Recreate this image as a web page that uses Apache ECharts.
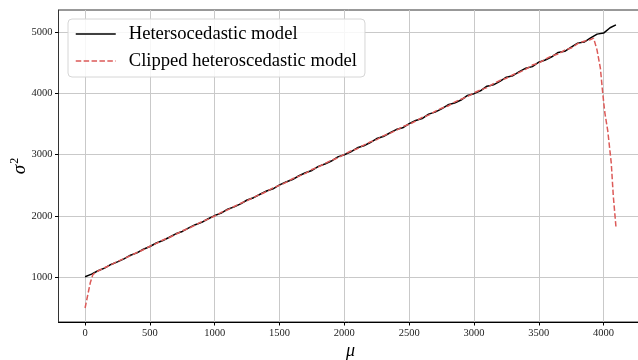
<!DOCTYPE html>
<html>
<head>
<meta charset="utf-8">
<script src="https://cdn.jsdelivr.net/npm/echarts@6/dist/echarts.min.js"></script>
<style>html,body{margin:0;padding:0;background:#fff}#c{width:638px;height:360px}</style>
</head>
<body>
<div id="c"></div>
<script>
// Heteroscedastic model (black) sampled points
const hetX = [0,50,100,150,200,250,300,350,400,450,500,550,600,650,700,750,800,850,900,950,
  1000,1050,1100,1150,1200,1250,1300,1350,1400,1450,1500,1550,1600,1650,1700,1750,1800,1850,1900,1950,
  2000,2050,2100,2150,2200,2250,2300,2350,2400,2450,2500,2550,2600,2650,2700,2750,2800,2850,2900,2950,
  3000,3050,3100,3150,3200,3250,3300,3350,3400,3450,3500,3550,3600,3650,3700,3750,3800,3850,3900,3950,
  4000,4050,4095];
const hetY = [1005,1048,1102,1146,1205,1248,1297,1356,1394,1453,1498,1556,1597,1649,1706,1744,1802,1855,1893,1952,
  2004,2043,2108,2146,2195,2258,2296,2352,2405,2441,2506,2553,2592,2654,2703,2741,2808,2846,2895,2962,
  2998,3046,3111,3143,3197,3262,3294,3353,3409,3438,3506,3556,3588,3661,3694,3747,3813,3842,3891,3966,
  3995,4042,4118,4139,4197,4264,4288,4356,4412,4437,4509,4545,4598,4669,4688,4757,4821,4838,4905,4968,
  4985,5072,5118];

// Clipped heteroscedastic model (red dashed)
const clipX = [0,20,40,60,80,100,150,200,250,300,350,400,450,500,550,600,650,700,750,800,850,900,950,
  1000,1050,1100,1150,1200,1250,1300,1350,1400,1450,1500,1550,1600,1650,1700,1750,1800,1850,1900,1950,
  2000,2050,2100,2150,2200,2250,2300,2350,2400,2450,2500,2550,2600,2650,2700,2750,2800,2850,2900,2950,
  3000,3050,3100,3150,3200,3250,3300,3350,3400,3450,3500,3550,3600,3650,3700,3750,3800,3850,3900,
  3923,3949,3975,3992,4008,4032,4059,4075,4095];
const clipY = [494,700,905,1040,1075,1098,1152,1199,1253,1302,1347,1401,1446,1503,1549,1604,1646,1698,1753,1796,1849,1904,1946,
  1997,2055,2098,2152,2204,2247,2303,2349,2396,2455,2497,2546,2605,2648,2694,2756,2798,2853,2906,2946,
  3004,3058,3096,3155,3207,3244,3306,3346,3396,3458,3493,3547,3607,3644,3706,3758,3794,3857,3904,3948,
  4009,4056,4094,4158,4211,4247,4304,4343,4396,4462,4494,4558,4613,4642,4706,4741,4812,4851,4880,
  4902,4711,4412,4030,3704,3389,2861,2316,1826];

const xTicks = [0,500,1000,1500,2000,2500,3000,3500,4000];
const yTicks = [1000,2000,3000,4000,5000];
const seriesNames = ['Hetersocedastic model','Clipped heteroscedastic model'];

const FONT = 'Liberation Serif';
const chart = echarts.init(document.getElementById('c'), null, {renderer:'canvas'});
const zip = (xs, ys) => xs.map((x, i) => [x, ys[i]]);

chart.setOption({
  animation: false,
  backgroundColor: '#fff',
  grid: {left: 58.5, top: 10, width: 584, height: 312, containLabel: false, outerBoundsMode: 'none',
         show: true, borderColor: '#333', borderWidth: 1, backgroundColor: 'transparent'},
  legend: {
    left: 68, top: 19, orient: 'vertical',
    itemWidth: 40, itemHeight: 14, itemGap: 7,
    padding: [5, 8, 6, 7],
    backgroundColor: 'rgba(255,255,255,0.85)', borderColor: '#d6d6d6', borderWidth: 1, borderRadius: 4,
    lineStyle: {width: 1.5},
    itemStyle: {opacity: 0},
    textStyle: {fontFamily: FONT, fontSize: 18.6, color: '#000', lineHeight: 20, padding: [0,0,0,8]},
    data: seriesNames
  },
  xAxis: {
    type: 'value', min: -205, max: 4300,
    name: 'μ', nameLocation: 'middle', nameGap: 20, nameMoveOverlap: false,
    nameTextStyle: {fontFamily: FONT, fontSize: 18, fontStyle: 'italic', color: '#000'},
    axisLine: {onZero: false, lineStyle: {color: '#000', width: 1}},
    axisTick: {show: true, inside: false, length: 3.5, customValues: xTicks, lineStyle: {color: '#000'}},
    axisLabel: {customValues: xTicks, margin: 6, fontFamily: FONT, fontSize: 10.5, color: '#222', formatter: v => String(v)},
    splitLine: {show: true, lineStyle: {color: '#c9c9c9', width: 1}}
  },
  yAxis: {
    type: 'value', min: 265, max: 5362,
    name: '{a|σ}{b|2}', nameLocation: 'middle', nameGap: 28, nameMoveOverlap: false,
    nameTextStyle: {fontFamily: FONT, color: '#000',
      rich: {a: {fontFamily: FONT, fontSize: 19, fontStyle: 'italic', color: '#000', lineHeight: 22},
             b: {fontFamily: FONT, fontSize: 12, color: '#000', verticalAlign: 'top', lineHeight: 22, padding: [0,0,8,1]}}},
    axisLine: {onZero: false, lineStyle: {color: '#333', width: 1}},
    axisTick: {show: true, inside: false, length: 3.5, customValues: yTicks, lineStyle: {color: '#000'}},
    axisLabel: {customValues: yTicks, margin: 6, fontFamily: FONT, fontSize: 10.5, color: '#222', formatter: v => String(v)},
    splitLine: {show: true, lineStyle: {color: '#c9c9c9', width: 1}}
  },
  series: [
    {name: seriesNames[0], type: 'line', symbol: 'none', data: zip(hetX, hetY),
     lineStyle: {color: '#000', width: 1.5}, itemStyle: {color: '#000'}, z: 2},
    {name: seriesNames[1], type: 'line', symbol: 'none', data: zip(clipX, clipY),
     lineStyle: {color: '#dc5a58', width: 1.5, type: [5.5, 2.4]}, itemStyle: {color: '#dc5a58'}, z: 3}
  ]
});
</script>
</body>
</html>
